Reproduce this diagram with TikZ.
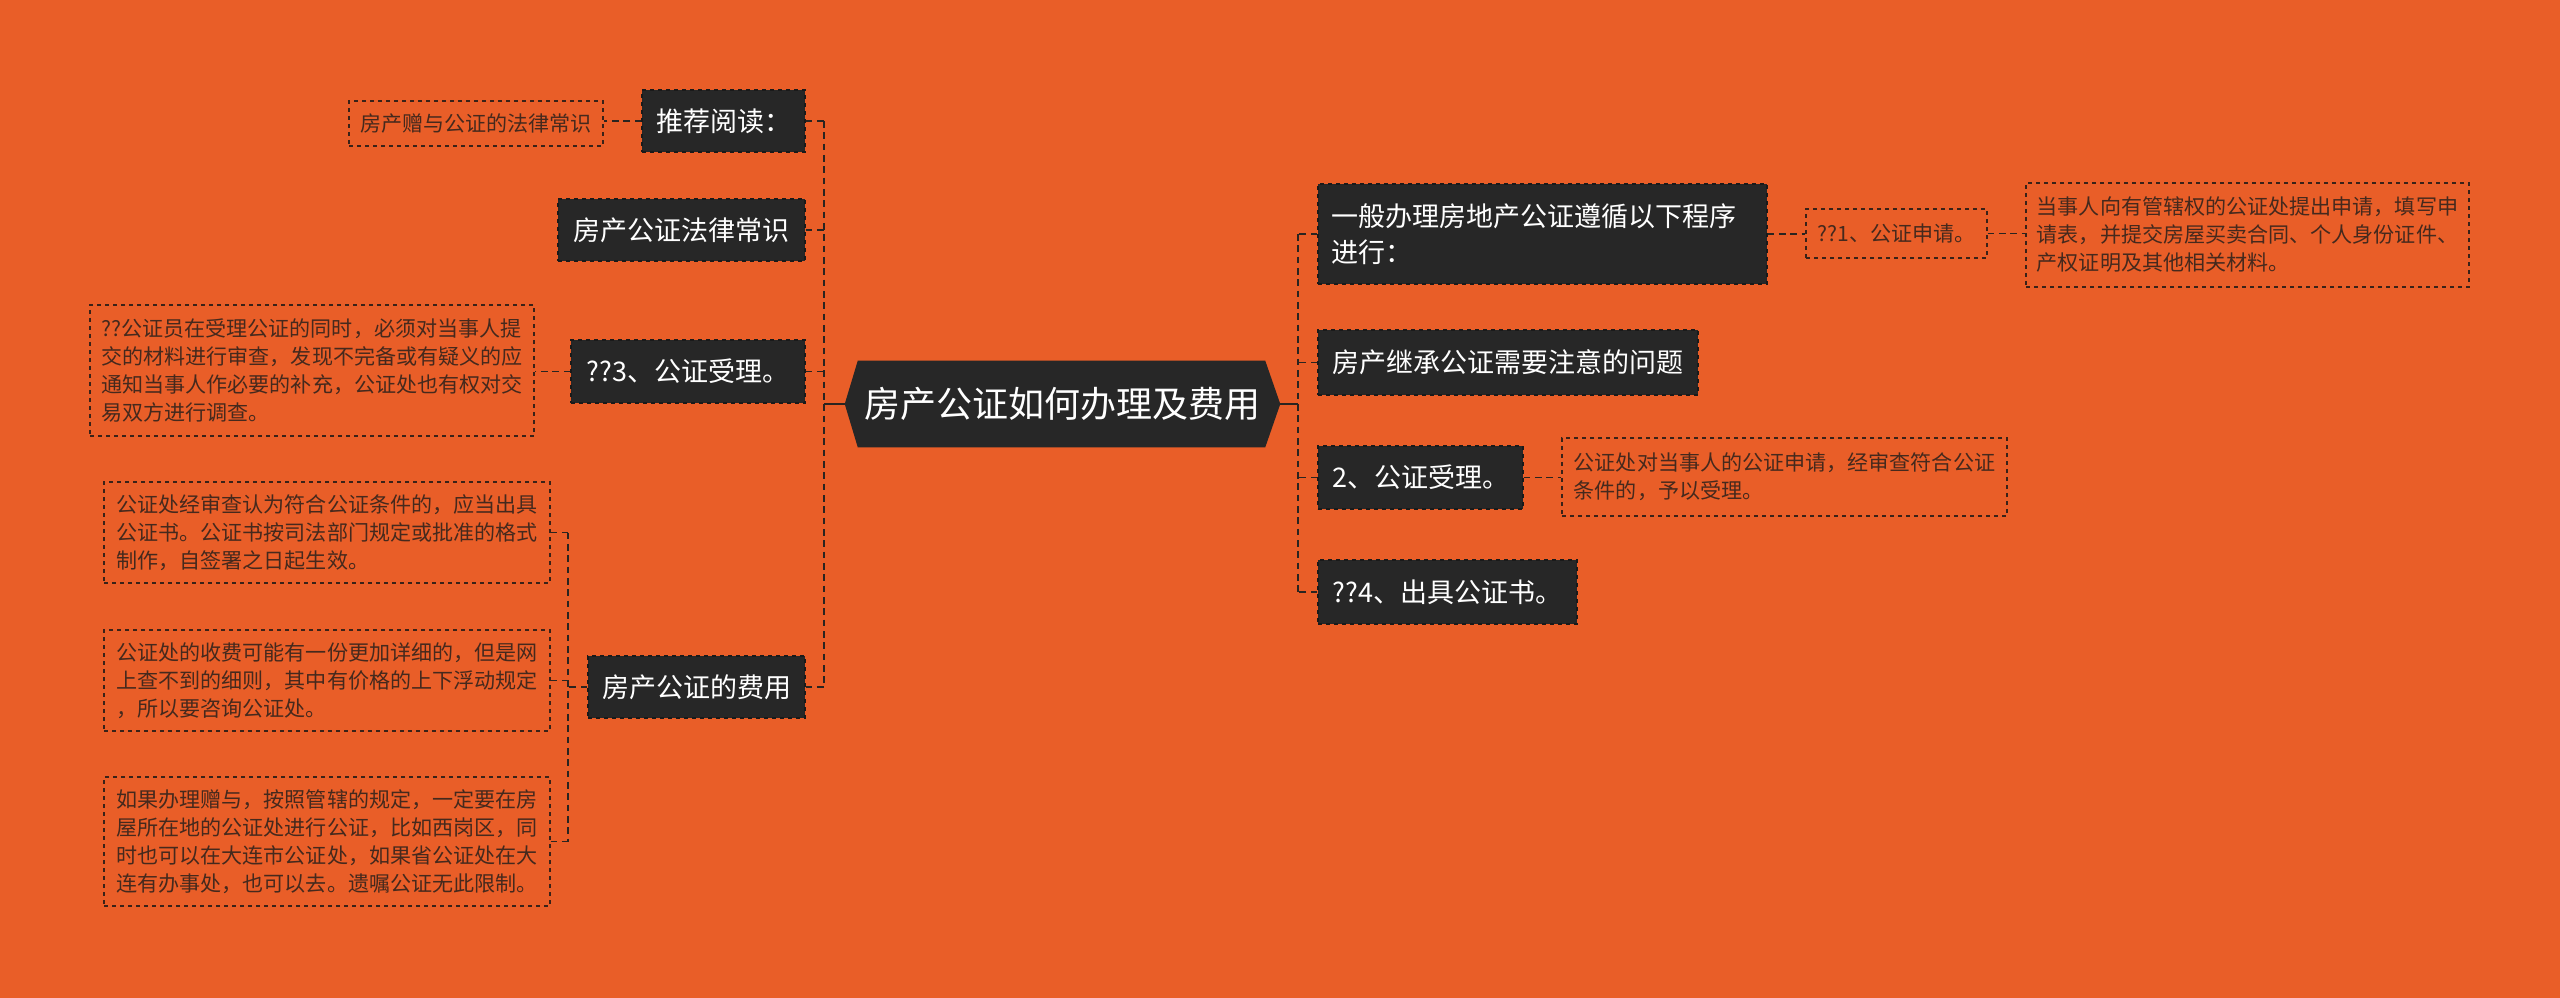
\documentclass[tikz,border=0pt]{standalone}
\usepackage{fontspec}
\setmainfont{Noto Sans CJK SC}
\definecolor{bg}{HTML}{E95E28}
\definecolor{boxfill}{HTML}{272727}
\definecolor{boxedge}{HTML}{1A1A1A}
\definecolor{leafedge}{HTML}{3A2218}
\definecolor{leaftext}{HTML}{45291D}
\definecolor{connc}{HTML}{2A2420}
\tikzset{
  wh/.style 2 args={minimum width=#1*0.75pt, minimum height=#2*0.75pt},
  branch/.style={fill=boxfill, draw=boxedge, dashed, line width=0.9pt, text=white,
    font=\fontsize{20.25}{27}\selectfont, inner sep=0pt, align=center},
  leaf/.style={draw=leafedge, dashed, line width=0.9pt, text=leaftext,
    font=\fontsize{15.8}{21}\selectfont, inner sep=0pt, align=left},
  conn/.style={draw=connc, line width=1.3pt, dash pattern=on 5pt off 3.5pt},
  solidc/.style={draw=connc, line width=2pt},
}
\begin{document}
\begin{tikzpicture}[x=0.75pt,y=-0.75pt]
\fill[bg] (0,0) rectangle (2560,998);
\useasboundingbox (0,0) rectangle (2560,998);

% root
\node[wh={435}{86}, inner sep=0pt] (root) at (1062.5,404) {};
\fill[boxfill] (root.west) -- ([xshift=9.75pt]root.north west) -- ([xshift=-11.25pt]root.north east)
  -- (root.east) -- ([xshift=-11.25pt]root.south east) -- ([xshift=9.75pt]root.south west) -- cycle;
\node[text=white, font=\fontsize{27}{32}\selectfont] (roottext) at (root.center) {房产公证如何办理及费用};

% left branches
\node[branch, wh={163}{62}] (tj) at (723.5,121) {推荐阅读：};
\node[branch, wh={247}{62}] (fl) at (681.5,230) {房产公证法律常识};
\node[branch, wh={234}{63}] (s3) at (688,371.5) {??3、公证受理。};
\node[branch, wh={217}{62}] (fy) at (696.5,687) {房产公证的费用};

\node[leaf, wh={254}{45}] (zy) at (476,123.5) {房产赠与公证的法律常识};
\node[leaf, wh={444}{131}] (s3l) at (312,370.5) {??公证员在受理公证的同时，必须对当事人提\\交的材料进行审查，发现不完备或有疑义的应\\通知当事人作必要的补充，公证处也有权对交\\易双方进行调查。};
\node[leaf, wh={446}{101}] (f1) at (327,532.5) {公证处经审查认为符合公证条件的，应当出具\\公证书。公证书按司法部门规定或批准的格式\\制作，自签署之日起生效。};
\node[leaf, wh={446}{101}] (f2) at (327,680.5) {公证处的收费可能有一份更加详细的，但是网\\上查不到的细则，其中有价格的上下浮动规定\\，所以要咨询公证处。};
\node[leaf, wh={446}{129}] (f3) at (327,841.5) {如果办理赠与，按照管辖的规定，一定要在房\\屋所在地的公证处进行公证，比如西岗区，同\\时也可以在大连市公证处，如果省公证处在大\\连有办事处，也可以去。遗嘱公证无此限制。};

% right branches
\node[branch, wh={449}{100}, align=left, text width=423*0.75pt] (yb) at (1542.5,234) {一般办理房地产公证遵循以下程序\\进行：};
\node[branch, wh={380}{65}] (jc) at (1508,362.5) {房产继承公证需要注意的问题};
\node[branch, wh={205}{63}] (s2) at (1420.5,477.5) {2、公证受理。};
\node[branch, wh={259}{64}] (s4) at (1447.5,592) {??4、出具公证书。};

\node[leaf, wh={181}{49}] (s1) at (1896.5,233.5) {??1、公证申请。};
\node[leaf, wh={443}{104}] (s1l) at (2247.5,235) {当事人向有管辖权的公证处提出申请，填写申\\请表，并提交房屋买卖合同、个人身份证件、\\产权证明及其他相关材料。};
\node[leaf, wh={445}{78}] (s2l) at (1784.5,477) {公证处对当事人的公证申请，经审查符合公证\\条件的，予以受理。};

% trunks
\coordinate (lt) at (824,404);
\coordinate (rt) at (1298,404);
\coordinate (fb) at (568,687);

\draw[solidc] (root.west) -- (root.west -| lt);
\draw[conn] (tj.east -| lt) -- (fy.east -| lt);
\draw[conn] (tj.east) -- (tj.east -| lt);
\draw[conn] (fl.east) -- (fl.east -| lt);
\draw[conn] (s3.east) -- (s3.east -| lt);
\draw[conn] (fy.east) -- (fy.east -| lt);

\draw[solidc] (root.east) -- (root.east -| rt);
\draw[conn] (yb.west -| rt) -- (s4.west -| rt);
\draw[conn] (yb.west) -- (yb.west -| rt);
\draw[conn] (jc.west) -- (jc.west -| rt);
\draw[conn] (s2.west) -- (s2.west -| rt);
\draw[conn] (s4.west) -- (s4.west -| rt);

% leaf links
\draw[conn] (tj.west) -- (tj.west -| zy.east);
\draw[conn] (s3.west) -- (s3.west -| s3l.east);
\draw[conn] (yb.east) -- (yb.east -| s1.west);
\draw[conn] (s1.east) -- (s1.east -| s1l.west);
\draw[conn] (s2.east) -- (s2.east -| s2l.west);

\draw[conn] (fy.west) -- (fy.west -| fb);
\draw[conn] (f1.east -| fb) -- (f3.east -| fb);
\draw[conn] (f1.east) -- (f1.east -| fb);
\draw[conn] (f2.east) -- (f2.east -| fb);
\draw[conn] (f3.east) -- (f3.east -| fb);
\end{tikzpicture}
\end{document}
